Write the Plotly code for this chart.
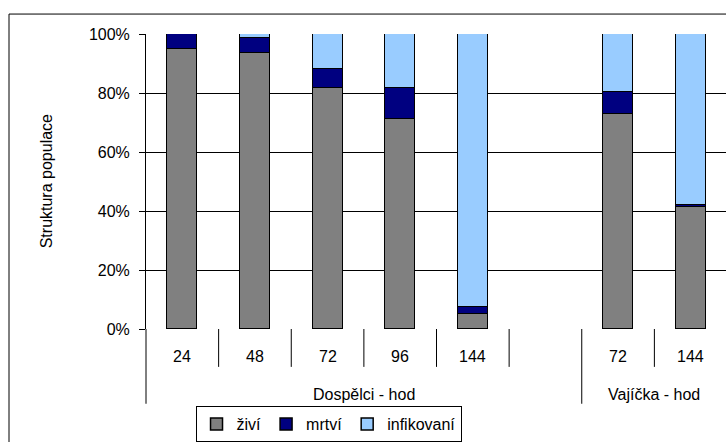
import plotly.graph_objects as go

# Categories (hours) and their groups
hours = ["24", "48", "72", "96", "144", "", "72", "144"]
groups = ["Dospělci - hod", "Vajíčka - hod"]
group_spans = [(0, 5), (6, 7)]  # first and last category index of each group

# Population structure in percent
zivi = [95.0, 93.5, 81.6, 71.3, 5.0, None, 73.0, 41.4]
mrtvi = [5.0, 5.0, 6.6, 10.3, 2.5, None, 7.5, 0.8]
infikovani = [0.0, 1.5, 11.8, 18.4, 92.5, None, 19.5, 57.8]

y_ticks = [0, 20, 40, 60, 80, 100]
y_tick_text = [f"{v}%" for v in y_ticks]

series = [
    ("živí", zivi, "#808080"),
    ("mrtví", mrtvi, "#000080"),
    ("infikovaní", infikovani, "#99CCFF"),
]

FONT = dict(family="Liberation Sans, Arial, sans-serif", size=16, color="black")
x_idx = list(range(len(hours)))
x_min, x_max = -0.5, len(hours) - 0.5 - 0.014

fig = go.Figure()
for name, vals, color in series:
    fig.add_trace(go.Bar(
        x=x_idx, y=vals, name=name, width=0.413,
        marker=dict(color=color, line=dict(color="black", width=1.5)),
    ))


def xpaper(v):
    return (v - x_min) / (x_max - x_min)


# Category labels under the axis
annotations = []
for i, lab in enumerate(hours):
    if lab:
        annotations.append(dict(x=i, xref="x", y=-0.094, yref="paper", text=lab,
                                showarrow=False, font=FONT, xanchor="center", yanchor="middle"))
# Group labels
for g, (a, b) in zip(groups, group_spans):
    annotations.append(dict(x=(a + b) / 2, xref="x", y=-0.222, yref="paper", text=g,
                            showarrow=False, font=FONT, xanchor="center", yanchor="middle"))
# Y-axis title
annotations.append(dict(x=-0.171, xref="paper", y=0.5, yref="paper", text="Struktura populace",
                        textangle=-90, showarrow=False, font=FONT,
                        xanchor="center", yanchor="middle"))

# Separators between categories and between groups
shapes = []
group_edges = {a for a, _ in group_spans} | {b + 1 for _, b in group_spans}
for k in range(len(hours) + 1):
    y_end = -0.2534 if k in group_edges else -0.1284
    xp = xpaper(k - 0.5)
    shapes.append(dict(type="line", xref="paper", yref="paper", x0=xp, x1=xp,
                       y0=0, y1=y_end, line=dict(color="black", width=1)))
# Chart frame
shapes.append(dict(type="rect", xref="paper", yref="paper", x0=-0.2362, x1=1.3,
                   y0=-0.6, y1=1.0676, line=dict(color="black", width=1), layer="below"))

fig.update_layout(
    width=726, height=442,
    margin=dict(l=146, r=0, t=34, b=112),
    paper_bgcolor="white", plot_bgcolor="white",
    barmode="stack", bargap=0,
    font=FONT,
    showlegend=True,
    legend=dict(orientation="h", x=0.3147, xanchor="center", y=-0.262, yanchor="top",
                bordercolor="black", borderwidth=1, font=FONT, itemwidth=30,
                tracegroupgap=0, traceorder="normal", itemclick=False),
    annotations=annotations,
    shapes=shapes,
    xaxis=dict(range=[x_min, x_max], showticklabels=False, ticks="", showgrid=False,
               zeroline=False, showline=False),
    yaxis=dict(range=[0, 100], tickmode="array", tickvals=y_ticks, ticktext=y_tick_text,
               showgrid=True, gridcolor="black", gridwidth=1, zeroline=False,
               showline=True, linecolor="black", linewidth=1,
               ticks="outside", ticklen=6, tickcolor="black", tickfont=FONT,
               ticklabelstandoff=6),
)

fig.write_html("out.html")
